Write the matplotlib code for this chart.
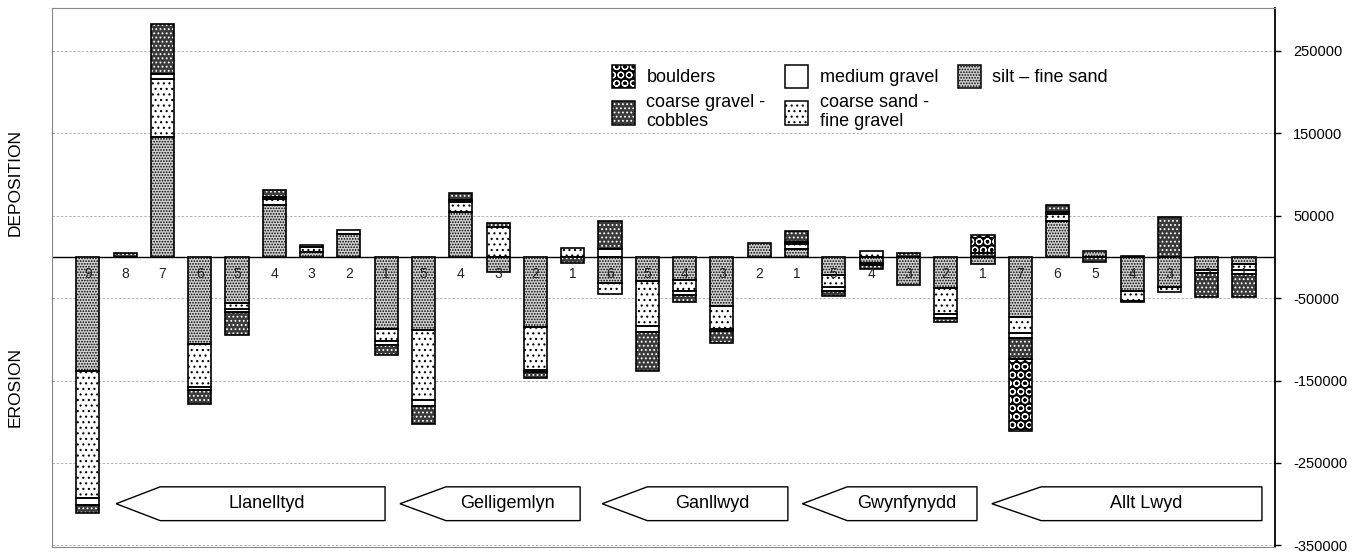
import numpy as np
import matplotlib.pyplot as plt
from matplotlib.patches import Patch, Polygon

plt.rcParams['font.family'] = ['Liberation Sans', 'DejaVu Sans']
plt.rcParams['hatch.linewidth'] = 0.8

reaches = ['Llanelltyd', 'Gelligemlyn', 'Ganllwyd', 'Gwynfynydd', 'Allt Lwyd']
section_labels = ['9', '8', '7', '6', '5', '4', '3', '2', '1',
                  '5', '4', '3', '2', '1',
                  '6', '5', '4', '3', '2', '1',
                  '5', '4', '3', '2', '1',
                  '7', '6', '5', '4', '3', '2', '1']

# volume change per size class (m3), deposition positive
silt_dep = [0, 0, 145000, 0, 0, 63000, 6000, 28000, 0,
            0, 54000, 0, 0, 0,
            0, 0, 0, 0, 17000, 9000,
            0, 0, 0, 0, 0,
            0, 43000, 7000, 0, 0, 0, 0]
sand_dep = [0, 0, 71000, 0, 0, 7000, 6500, 0, 0,
            0, 13000, 36500, 0, 11000,
            0, 0, 0, 0, 0, 7000,
            0, 7000, 0, 0, 0,
            0, 9500, 0, 0, 0, 0, 0]
medium_dep = [0, 0, 6000, 0, 0, 3000, 2000, 4500, 0,
              0, 2000, 0, 0, 0,
              9000, 0, 0, 0, 0, 2500,
              0, 0, 0, 0, 0,
              0, 2500, 0, 0, 0, 0, 0]
coarse_dep = [0, 5000, 61000, 0, 0, 8000, 0, 0, 0,
              0, 8000, 5000, 0, 0,
              35000, 0, 0, 0, 0, 13000,
              0, 0, 5000, 0, 5000,
              0, 8000, 0, 1500, 48000, 0, 0]
boulder_dep = [0, 0, 0, 0, 0, 0, 0, 0, 0,
               0, 0, 0, 0, 0,
               0, 0, 0, 0, 0, 0,
               0, 0, 0, 0, 21000,
               0, 0, 0, 0, 0, 0, 0]

# erosion negative
silt_ero = [-138000, 0, 0, -106000, -56000, 0, 0, 0, -87000,
            -89000, 0, -18000, -85000, 0,
            -32000, -29000, -28000, -60000, 0, 0,
            -22000, -7000, -34000, -38000, -9000,
            -73000, 0, 0, -41000, -37000, -16000, -9000]
sand_ero = [-155000, 0, 0, -52000, -7000, 0, 0, 0, -15000,
            -85000, 0, 0, -52000, 0,
            -13000, -55000, -13000, -27000, 0, 0,
            -15000, 0, 0, -31000, 0,
            -19000, 0, 0, -12000, -5000, 0, -7000]
medium_ero = [-8000, 0, 0, -3000, -4000, 0, 0, 0, -5000,
              -7000, 0, 0, -3000, 0,
              0, -7000, -5000, -3000, 0, 0,
              -4000, -3000, 0, -5000, 0,
              -6000, 0, 0, -2000, 0, -3000, -5000]
coarse_ero = [-10000, 0, 0, -18000, -28000, 0, 0, 0, -12000,
              -22000, 0, 0, -7000, -7000,
              0, -48000, -9000, -15000, 0, 0,
              -6500, -5000, 0, -5000, 0,
              -26000, 0, -6000, 0, 0, -29500, -28000]
boulder_ero = [0, 0, 0, 0, 0, 0, 0, 0, 0,
               0, 0, 0, 0, 0,
               0, 0, 0, 0, 0, 0,
               0, 0, 0, 0, 0,
               -87000, 0, 0, 0, 0, 0, 0]

# size classes in stacking order: (legend text, face, hatch, hatch colour)
classes = [
    ('silt \u2013 fine sand', '#d0d0d0', '......', 'black', silt_dep, silt_ero),
    ('coarse sand -\nfine gravel', 'white', '...', 'black', sand_dep, sand_ero),
    ('medium gravel', 'white', '', 'black', medium_dep, medium_ero),
    ('coarse gravel -\ncobbles', '#3a3a3a', '....', 'white', coarse_dep, coarse_ero),
    ('boulders', 'black', 'OO', 'white', boulder_dep, boulder_ero),
]

# arrow boxes under the bars: (tip, body left, right) in bar units
arrow_spans = [(0.76, 1.94, 7.97), (8.37, 9.6, 13.2), (13.79, 15.0, 18.77),
               (19.16, 20.36, 23.84), (24.24, 25.56, 31.48)]
arrow_top, arrow_bot = -279000, -320000

fig = plt.figure(figsize=(13.59, 5.57), dpi=100)
ax = fig.add_axes([52/1359, 1 - 547/557, 1223/1359, 539/557])

x = np.arange(len(section_labels))
w = 0.62

for sign in (0, 1):
    bottom = np.zeros(len(x))
    for name, face, hatch, hcol, dep, ero in classes:
        vals = np.array(dep if sign == 0 else ero, dtype=float)
        m = vals != 0
        if m.any():
            ax.bar(x[m], vals[m], w, bottom=bottom[m], color=face,
                   edgecolor=hcol, hatch=hatch, linewidth=0, zorder=2)
            ax.bar(x[m], vals[m], w, bottom=bottom[m], fill=False,
                   edgecolor='black', linewidth=1.2, zorder=3)
        bottom += vals

ax.axhline(0, color='black', lw=1.0, zorder=1.5)

for xi, lab in zip(x, section_labels):
    ax.text(xi, -21000, lab, ha='center', va='center', fontsize=10,
            color='#222222', zorder=4)

for (tip, left, right), name in zip(arrow_spans, reaches):
    mid = (arrow_top + arrow_bot) / 2
    poly = Polygon([(tip, mid), (left, arrow_top), (right, arrow_top),
                    (right, arrow_bot), (left, arrow_bot)], closed=True,
                   facecolor='white', edgecolor='black', lw=1.0, zorder=2)
    ax.add_patch(poly)
    ax.text((left + right) / 2 - 0.15, mid, name, ha='center', va='center',
            fontsize=13, zorder=3)

ax.set_xlim(-0.96, 31.83)
ax.set_ylim(-352000, 302000)
ax.set_xticks([])
ax.yaxis.tick_right()
ax.set_yticks(np.arange(-350000, 300000, 100000))
ax.set_yticklabels([str(v) for v in np.arange(-350000, 300000, 100000)])
ax.tick_params(axis='y', direction='out', length=4, width=1, pad=9,
               labelsize=10.5)
ax.yaxis.grid(True, color='#aaaaaa', lw=0.6, ls=(0, (3, 2)), zorder=0)
ax.set_axisbelow(True)
for s in ('left', 'top', 'bottom'):
    ax.spines[s].set_color('#888888')
    ax.spines[s].set_linewidth(0.8)
ax.spines['right'].set_linewidth(1.3)

# legend: hatch drawn in its own colour, outline on top
order = [4, 3, 2, 1, 0]
handles, texts = [], []
for i in order:
    name, face, hatch, hcol = classes[i][:4]
    handles.append((Patch(facecolor=face, edgecolor=hcol, hatch=hatch, lw=0),
                    Patch(fill=False, edgecolor='black', lw=1.1)))
    texts.append(name)
ax.legend(handles, texts, ncol=3, loc='upper left',
          bbox_to_anchor=(0.458, 0.895), frameon=False, fontsize=13,
          handlelength=1.25, handleheight=1.65, handletextpad=0.65,
          columnspacing=1.1, borderaxespad=0, borderpad=0, labelspacing=0.3)

fig.text(15/1359, 1 - 183/557, 'DEPOSITION', rotation=90, ha='center',
         va='center', fontsize=12.5)
fig.text(15/1359, 1 - 387/557, 'EROSION', rotation=90, ha='center',
         va='center', fontsize=12.5)

fig.savefig('out.png', dpi=100)
